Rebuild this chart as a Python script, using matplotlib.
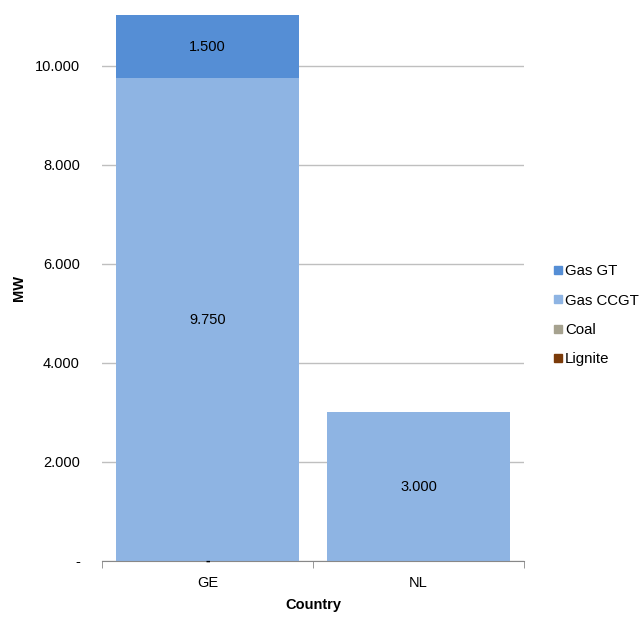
import matplotlib.pyplot as plt
import numpy as np
from matplotlib.lines import Line2D

countries = ['GE', 'NL']
series = ['Lignite', 'Coal', 'Gas CCGT', 'Gas GT']
lignite = [0, 0]
coal = [0, 0]
gas_ccgt = [9750, 3000]
gas_gt = [1500, 0]
colors = {'Lignite': '#7B3B0A', 'Coal': '#A6A28F', 'Gas CCGT': '#8EB4E3', 'Gas GT': '#558ED5'}


def fmt(v):
    return '{:,.0f}'.format(v).replace(',', '.')


def main():
    plt.rcParams['font.family'] = ['Liberation Sans', 'DejaVu Sans']
    fig = plt.figure(figsize=(6.43, 6.17), dpi=100)
    ax = fig.add_axes([102 / 643, 1 - 561 / 617, 422 / 643, 546 / 617])

    x = np.arange(len(countries))
    width = 0.87
    ymax = 11030
    values = [lignite, coal, gas_ccgt, gas_gt]
    bottom = np.zeros(len(countries))
    for name, vals in zip(series, values):
        vals = np.array(vals, dtype=float)
        ax.bar(x, vals, width, bottom=bottom, color=colors[name], zorder=2)
        for i, v in enumerate(vals):
            if v > 0:
                top = min(bottom[i] + v, ymax)
                ax.text(x[i], (bottom[i] + top) / 2, fmt(v), ha='center', va='center',
                        fontsize=10.5, zorder=3)
        bottom += vals
    # zero-value label shown as a dash
    ax.text(x[0], 0, '-', ha='center', va='center', fontsize=10, fontweight='bold', zorder=3)

    ax.set_xlim(-0.5, len(countries) - 0.5)
    ax.set_ylim(0, ymax)
    ax.set_yticks(np.arange(0, 10001, 2000))
    ax.set_yticklabels(['-'] + [fmt(v) for v in range(2000, 10001, 2000)], fontsize=10.5)
    ax.yaxis.grid(True, color='#BFBFBF', linewidth=1, zorder=0)
    ax.tick_params(axis='y', length=0, pad=16)
    ax.set_xticks(x)
    ax.set_xticklabels(countries, fontsize=10.5)
    ax.set_xticks(np.arange(-0.5, len(countries)), minor=True)
    ax.tick_params(axis='x', which='major', length=0, pad=11)
    ax.tick_params(axis='x', which='minor', length=5, color='#888888', direction='out')
    for s in ['top', 'right', 'left']:
        ax.spines[s].set_visible(False)
    ax.spines['bottom'].set_color('#888888')

    ax.set_ylabel('MW', fontsize=10.5, fontweight='bold')
    ax.yaxis.set_label_coords(-0.18, 0.5)
    ax.set_xlabel('Country', fontsize=10.5, fontweight='bold')
    ax.xaxis.set_label_coords(0.5, -0.068)

    handles = [Line2D([], [], marker='s', linestyle='none', markersize=6,
                      color=colors[n]) for n in series[::-1]]
    ax.legend(handles, series[::-1], loc='center left', bbox_to_anchor=(1.055, 0.45),
              frameon=False, fontsize=10.8, handlelength=0.6, handletextpad=0.2,
              labelspacing=1.02, borderaxespad=0)

    fig.savefig('out.png', dpi=100)


if __name__ == "__main__":
    main()
